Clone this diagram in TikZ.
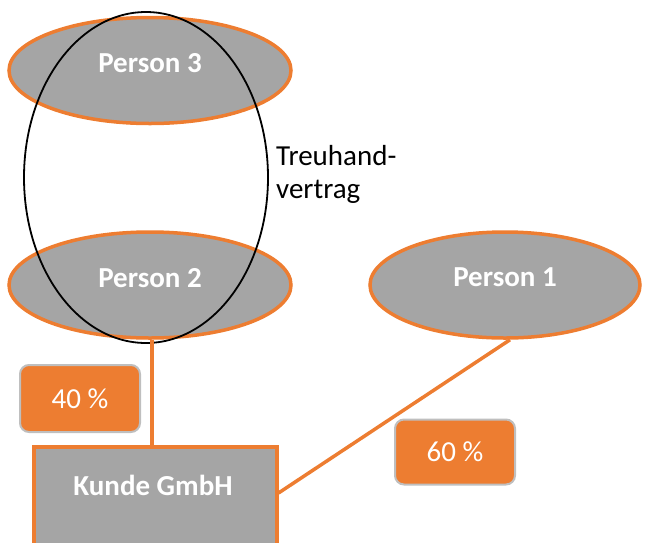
\documentclass[tikz,border=0pt]{standalone}
\usepackage{fontspec}
\setmainfont{Carlito}
\usetikzlibrary{shapes.geometric}
\definecolor{org}{HTML}{ED7D31}
\definecolor{gry}{HTML}{A5A5A5}
\definecolor{lgry}{HTML}{BFBFBF}
\tikzset{
  person/.style={ellipse, draw=org, line width=3.5pt, fill=gry, minimum width=282pt, minimum height=106pt, inner sep=0pt, text=white, text depth=15pt, font=\fontsize{29}{34}\selectfont\bfseries},
  pct/.style={rounded corners=9pt, draw=lgry, line width=2pt, fill=org, minimum width=120pt, inner sep=0pt, text=white, font=\fontsize{29}{34}\selectfont},
  link/.style={draw=org, line width=3.5pt},
}
\begin{document}
\begin{tikzpicture}[x=1pt,y=-1pt]
\useasboundingbox (0,0) rectangle (646,542);
\node[person] (p3) at (150,70.5) {Person 3};
\node[person] (p2) at (150,285) {Person 2};
\node[person, minimum width=270pt] (p1) at (505,285) {Person 1};
\node[draw, line width=1.8pt, ellipse, minimum width=244pt, minimum height=331pt, inner sep=0pt] (tv) at (146,177.5) {};
\node[anchor=west, align=left, inner sep=0pt, font=\fontsize{29}{33}\selectfont] (tvl) at (276,174) {Treuhand-\\vertrag};
\node[draw=org, line width=3.5pt, fill=gry, minimum width=243pt, minimum height=120pt, anchor=north west, inner sep=0pt] (k) at (32,445) {};
\node[text=white, font=\fontsize{29}{34}\selectfont\bfseries] (kt) at (153,485) {Kunde GmbH};
\node[pct, minimum height=67pt] (l40) at (80,398.5) {40 \%};
\node[pct, minimum height=65pt] (l60) at (455,452) {60 \%};
\draw[link] ([xshift=2pt]p2.south) -- ([xshift=2pt]p2.south |- k.north);
\draw[link] ([xshift=5pt]p1.south) -- (k.east |- 0,493);
\end{tikzpicture}
\end{document}
